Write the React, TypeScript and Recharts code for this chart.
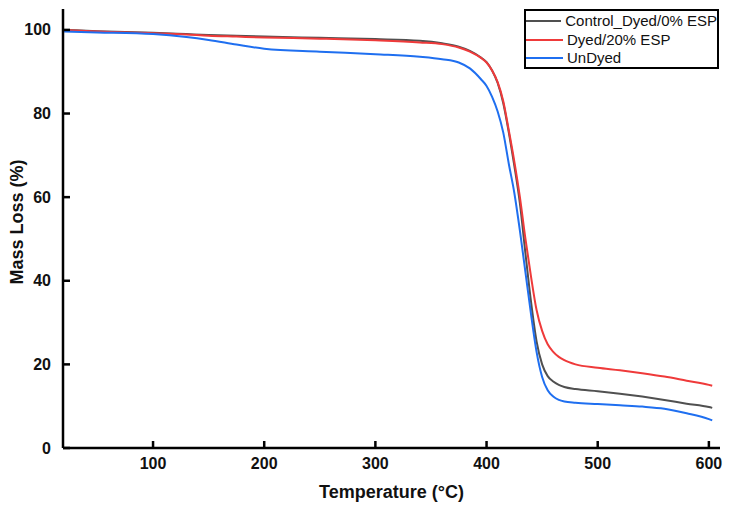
import React from 'react';
import { LineChart, Line, XAxis, YAxis, Legend, Label } from 'recharts';

const FONT = "Arial, 'Liberation Sans', sans-serif";

// Temperature grid (°C) shared by all three TGA curves
const temperatures = [
    20, 50, 100, 130, 150, 175, 200, 250, 300, 340, 360, 375, 385, 395, 400, 405, 410, 415,
    420, 425, 430, 435, 440, 445, 450, 455, 460, 465, 470, 480, 500, 520, 540, 560, 580, 600, 603
];

const controlDyed = [
    100.0, 99.7, 99.3, 99.0, 98.8, 98.6, 98.4, 98.1, 97.8, 97.4, 96.8, 96.0, 95.0, 93.4, 92.3, 90.3, 87.3, 82.5,
    75.5, 67.5, 58.5, 46.5, 35.0, 25.5, 20.0, 17.2, 15.9, 15.1, 14.6, 14.1, 13.6, 13.0, 12.3, 11.5, 10.6, 9.8, 9.6
];

const dyed20 = [
    100.0, 99.6, 99.2, 98.9, 98.6, 98.4, 98.2, 97.9, 97.5, 97.0, 96.6, 95.8, 94.8, 93.3, 92.2, 90.3, 87.5, 83.0,
    76.0, 68.5, 60.0, 50.0, 41.0, 33.0, 28.0, 24.8, 23.0, 21.8, 21.0, 20.0, 19.2, 18.6, 17.9, 17.1, 16.1, 15.1, 14.9
];

const undyed = [
    99.6, 99.4, 99.0, 98.3, 97.6, 96.5, 95.5, 94.8, 94.2, 93.6, 93.0, 92.2, 90.8, 88.2, 86.6, 84.0, 80.5, 75.5,
    68.0, 61.0, 52.0, 42.0, 32.0, 23.0, 17.0, 13.8, 12.3, 11.5, 11.1, 10.8, 10.5, 10.2, 9.9, 9.4, 8.3, 6.9, 6.6
];

const xTicks = [100, 200, 300, 400, 500, 600];
const yTicks = [0, 20, 40, 60, 80, 100];

const X_DOMAIN: [number, number] = [19, 610];
const Y_DOMAIN: [number, number] = [0, 105];

const series = [
    { key: 'control', name: 'Control_Dyed/0% ESP', color: '#505050' },
    { key: 'dyed', name: 'Dyed/20% ESP', color: '#ef3a3a' },
    { key: 'undyed', name: 'UnDyed', color: '#1f6ff0' }
];

const data = temperatures.map((t, i) => ({
    t,
    control: controlDyed[i],
    dyed: dyed20[i],
    undyed: undyed[i]
}));

const frameLine = { stroke: '#000', strokeWidth: 2.5 };

// tick label outside, short tick mark pointing into the plot
const XTick = ({ x, y, payload }: any) => (
    <g>
        <path d={`M${x},${y - 21}v-7`} stroke="#000" strokeWidth={2.5} fill="none" />
        <text x={x} y={y} textAnchor="middle" fontFamily={FONT} fontWeight="bold" fontSize={16} fill="#111">
            {payload.value}
        </text>
    </g>
);

const YTick = ({ x, y, payload }: any) => (
    <g>
        <path d={`M${x + 12},${y}h7`} stroke="#000" strokeWidth={2.5} fill="none" />
        <text x={x} y={y + 5.5} textAnchor="end" fontFamily={FONT} fontWeight="bold" fontSize={16} fill="#111">
            {payload.value}
        </text>
    </g>
);

const LegendBox = () => (
    <div
        style={{
            width: 195,
            height: 60,
            border: '2.5px solid #000',
            boxSizing: 'border-box',
            background: '#fff',
            fontFamily: FONT,
            fontSize: 15,
            color: '#111',
            paddingTop: 1,
            whiteSpace: 'nowrap'
        }}
    >
        {series.map((s) => (
            <div key={s.key} style={{ display: 'flex', alignItems: 'center', height: 18.5, lineHeight: '18.5px' }}>
                <span style={{ display: 'inline-block', width: 37, height: 2, background: s.color, marginRight: 4 }} />
                <span>{s.name}</span>
            </div>
        ))}
    </div>
);

const YTitle = () => (
    <text
        x={17}
        y={222}
        transform="rotate(-90 17 222)"
        textAnchor="middle"
        dominantBaseline="central"
        fontFamily={FONT}
        fontWeight="bold"
        fontSize={18}
        fill="#111"
    >
        Mass Loss (%)
    </text>
);

export default function App() {
    return (
        <div style={{ position: 'absolute', left: 0, top: 0, background: '#fff' }}>
            <LineChart width={729} height={510} data={data} margin={{ top: 9, right: 9, left: 0, bottom: 0 }}>
                <XAxis
                    type="number"
                    dataKey="t"
                    domain={X_DOMAIN}
                    ticks={xTicks}
                    allowDataOverflow
                    height={62}
                    tickSize={0}
                    tickMargin={21}
                    tickLine={false}
                    tick={<XTick />}
                    axisLine={frameLine}
                >
                    <Label
                        value="Temperature (°C)"
                        position="insideBottom"
                        offset={12}
                        style={{ fontFamily: FONT, fontWeight: 'bold', fontSize: 18, fill: '#111' }}
                    />
                </XAxis>
                {/* top and right edges of the frame */}
                <XAxis
                    xAxisId="top"
                    orientation="top"
                    type="number"
                    dataKey="t"
                    domain={X_DOMAIN}
                    allowDataOverflow
                    height={0}
                    tick={false}
                    tickLine={false}
                    axisLine={frameLine}
                />
                <YAxis
                    type="number"
                    domain={Y_DOMAIN}
                    ticks={yTicks}
                    allowDataOverflow
                    width={63}
                    tickSize={0}
                    tickMargin={12}
                    tickLine={false}
                    tick={<YTick />}
                    axisLine={frameLine}
                >
                    <Label content={<YTitle />} />
                </YAxis>
                <YAxis
                    yAxisId="right"
                    orientation="right"
                    type="number"
                    domain={Y_DOMAIN}
                    allowDataOverflow
                    width={0}
                    tick={false}
                    tickLine={false}
                    axisLine={frameLine}
                />
                <Legend
                    layout="horizontal"
                    align="center"
                    verticalAlign="middle"
                    wrapperStyle={{ position: 'absolute', left: 524, top: 9, width: 'auto', height: 'auto' }}
                    content={<LegendBox />}
                />
                {series.map((s) => (
                    <Line
                        key={s.key}
                        type="monotone"
                        dataKey={s.key}
                        name={s.name}
                        stroke={s.color}
                        strokeWidth={2}
                        dot={false}
                        activeDot={false}
                        isAnimationActive={false}
                    />
                ))}
            </LineChart>
        </div>
    );
}
